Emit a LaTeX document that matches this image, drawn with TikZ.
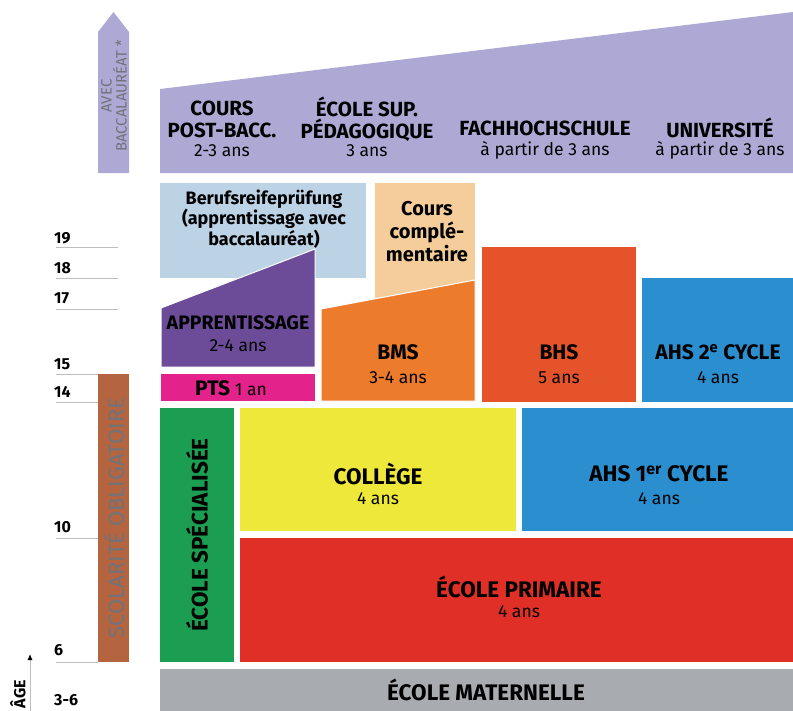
\documentclass[tikz,border=0pt]{standalone}
\usepackage{fontspec}
\setmainfont{Fira Sans}
\usetikzlibrary{arrows.meta}
\definecolor{cLav}{HTML}{ADA9D4}
\definecolor{cLBlue}{HTML}{BCD2E5}
\definecolor{cPeach}{HTML}{F4CD9B}
\definecolor{cPurple}{HTML}{6C4C99}
\definecolor{cMag}{HTML}{E3228B}
\definecolor{cOrange}{HTML}{EC7B2C}
\definecolor{cBHS}{HTML}{E4532A}
\definecolor{cBlue}{HTML}{2B8ECE}
\definecolor{cGreen}{HTML}{1B9E52}
\definecolor{cYellow}{HTML}{EEE83A}
\definecolor{cRed}{HTML}{E02F27}
\definecolor{cGray}{HTML}{A8ABB0}
\definecolor{cBrown}{HTML}{B4643E}
\definecolor{cTxtGray}{HTML}{70737C}
\definecolor{cLine}{HTML}{BDBDBD}
\tikzset{
  ttl/.style={font=\fontsize{20.5}{22}\selectfont\bfseries, align=center, inner sep=0pt},
  ttlm/.style={font=\fontsize{21}{22}\selectfont\bfseries, align=center, inner sep=0pt},
  ttlb/.style={font=\fontsize{22.5}{24}\selectfont\bfseries, align=center, inner sep=0pt},
  sub/.style={font=\fontsize{17.5}{19}\selectfont, align=center, inner sep=0pt},
  smallttl/.style={font=\fontsize{18}{19}\selectfont\bfseries, align=center, inner sep=0pt},
  agelbl/.style={font=\fontsize{16}{19}\selectfont\bfseries, anchor=west, inner sep=0pt},
  ageline/.style={draw=cLine, line width=0.8pt},
  overlay/.style={draw=white, line width=1pt}
}
\begin{document}
\begin{tikzpicture}[x=1pt,y=-1pt]
\useasboundingbox (0,0) rectangle (793,710);
% top arrow
\fill[cLav] (98,173) -- (98,32) -- (113.5,12) -- (129,32) -- (129,173) -- cycle;
\node[rotate=90, font=\fontsize{15}{13.5}\selectfont, text=cTxtGray, align=center, inner sep=0pt] (avec) at (114,96) {AVEC\\BACCALAURÉAT *};
% top band
\fill[cLav] (160,89) -- (793,12) -- (793,173) -- (160,173) -- cycle;
\node[ttl] (cours) at (222,119) {COURS\\POST-BACC.};
\node[sub] (cours2) at (222,151) {2-3 ans};
\node[ttl] (esp) at (367,119) {ÉCOLE SUP.\\PÉDAGOGIQUE};
\node[sub] (esp2) at (367,151) {3 ans};
\node[ttl] (fh) at (545,128) {FACHHOCHSCHULE};
\node[sub] (fh2) at (545,150) {à partir de 3 ans};
\node[ttl] (uni) at (720,128) {UNIVERSITÉ};
\node[sub] (uni2) at (720,150) {à partir de 3 ans};
% second row
\fill[cLBlue] (160,183) rectangle (366,278);
\node[smallttl] (brp) at (264,219) {Berufsreifeprüfung\\(apprentissage avec\\baccalauréat)};
\fill[cPeach] (375,183) rectangle (475,298);
\node[font=\fontsize{20}{23}\selectfont\bfseries, align=center, inner sep=0pt] (cc) at (427,232) {Cours\\complé-\\mentaire};
\fill[cPurple, overlay] (161,308) -- (315,249) -- (315,367) -- (161,367) -- cycle;
\node[font=\fontsize{19.5}{22}\selectfont\bfseries, inner sep=0pt] (app) at (238,323) {APPRENTISSAGE};
\node[sub] (app2) at (238,346) {2-4 ans};
\fill[cMag] (161,374) rectangle (315,401);
\node[inner sep=0pt] (pts) at (231,388) {\fontsize{21}{22}\selectfont\bfseries PTS\fontsize{17.5}{19}\selectfont\mdseries{} 1 an};
\filldraw[cOrange, overlay] (321,309) -- (475,280) -- (475,401) -- (321,401) -- cycle;
\node[ttlm] (bms) at (398,352) {BMS};
\node[sub] (bms2) at (398,378) {3-4 ans};
\fill[cBHS] (482,247) rectangle (636,402);
\node[ttlm] (bhs) at (559,352) {BHS};
\node[sub] (bhs2) at (559,378) {5 ans};
\fill[cBlue] (642,278) rectangle (793,402);
\node[ttlm] (ahs2) at (718,352) {AHS 2\textsuperscript{e} CYCLE};
\node[sub] (ahs22) at (718,378) {4 ans};
% third row
\fill[cGreen] (160,408) rectangle (234,662);
\node[ttlb, rotate=90] (spec) at (197,535) {ÉCOLE SPÉCIALISÉE};
\fill[cYellow] (240,408) rectangle (516,531);
\node[ttlb] (col) at (378,474) {COLLÈGE};
\node[sub] (col2) at (378,499) {4 ans};
\fill[cBlue] (522,408) rectangle (793,531);
\node[ttlb] (ahs1) at (659,474) {AHS 1\textsuperscript{er} CYCLE};
\node[sub] (ahs12) at (659,499) {4 ans};
\fill[cRed] (240,538) rectangle (793,662);
\node[ttlb] (prim) at (519,587) {ÉCOLE PRIMAIRE};
\node[sub] (prim2) at (519,612) {4 ans};
\fill[cGray] (160,669) rectangle (793,712);
\node[ttlb] (mat) at (486,690) {ÉCOLE MATERNELLE};
% compulsory schooling
\fill[cBrown] (98,374) rectangle (129,662);
\node[rotate=90, font=\fontsize{22}{24}\selectfont, text=cTxtGray, inner sep=0pt] (scol) at (114,518) {SCOLARITÉ OBLIGATOIRE};
% age axis
\draw[ageline] (56,247) -- (118,247);
\draw[ageline] (56,278) -- (118,278);
\draw[ageline] (56,309) -- (118,309);
\draw[ageline] (56,374) -- (98,374);
\draw[ageline] (56,402) -- (98,402);
\draw[ageline] (56,538) -- (98,538);
\draw[ageline] (56,662) -- (98,662);
\node[agelbl] (a19) at (54,238) {19};
\node[agelbl] (a18) at (54,268) {18};
\node[agelbl] (a17) at (54,298) {17};
\node[agelbl] (a15) at (54,364) {15};
\node[agelbl] (a14) at (54,392) {14};
\node[agelbl] (a10) at (54,527) {10};
\node[agelbl] (a6) at (54,650) {6};
\node[agelbl] (a36) at (54,700) {3-6};
\coordinate (arrBot) at (30,712);
\coordinate (arrTop) at (30,654);
\draw[draw=cLine, line width=0.8pt, -{Latex[length=6pt,width=5pt,black]}] (arrBot) -- (arrTop);
\node[rotate=90, font=\fontsize{16}{19}\selectfont\bfseries, inner sep=0pt] (age) at (18,694) {ÂGE};
\end{tikzpicture}
\end{document}
